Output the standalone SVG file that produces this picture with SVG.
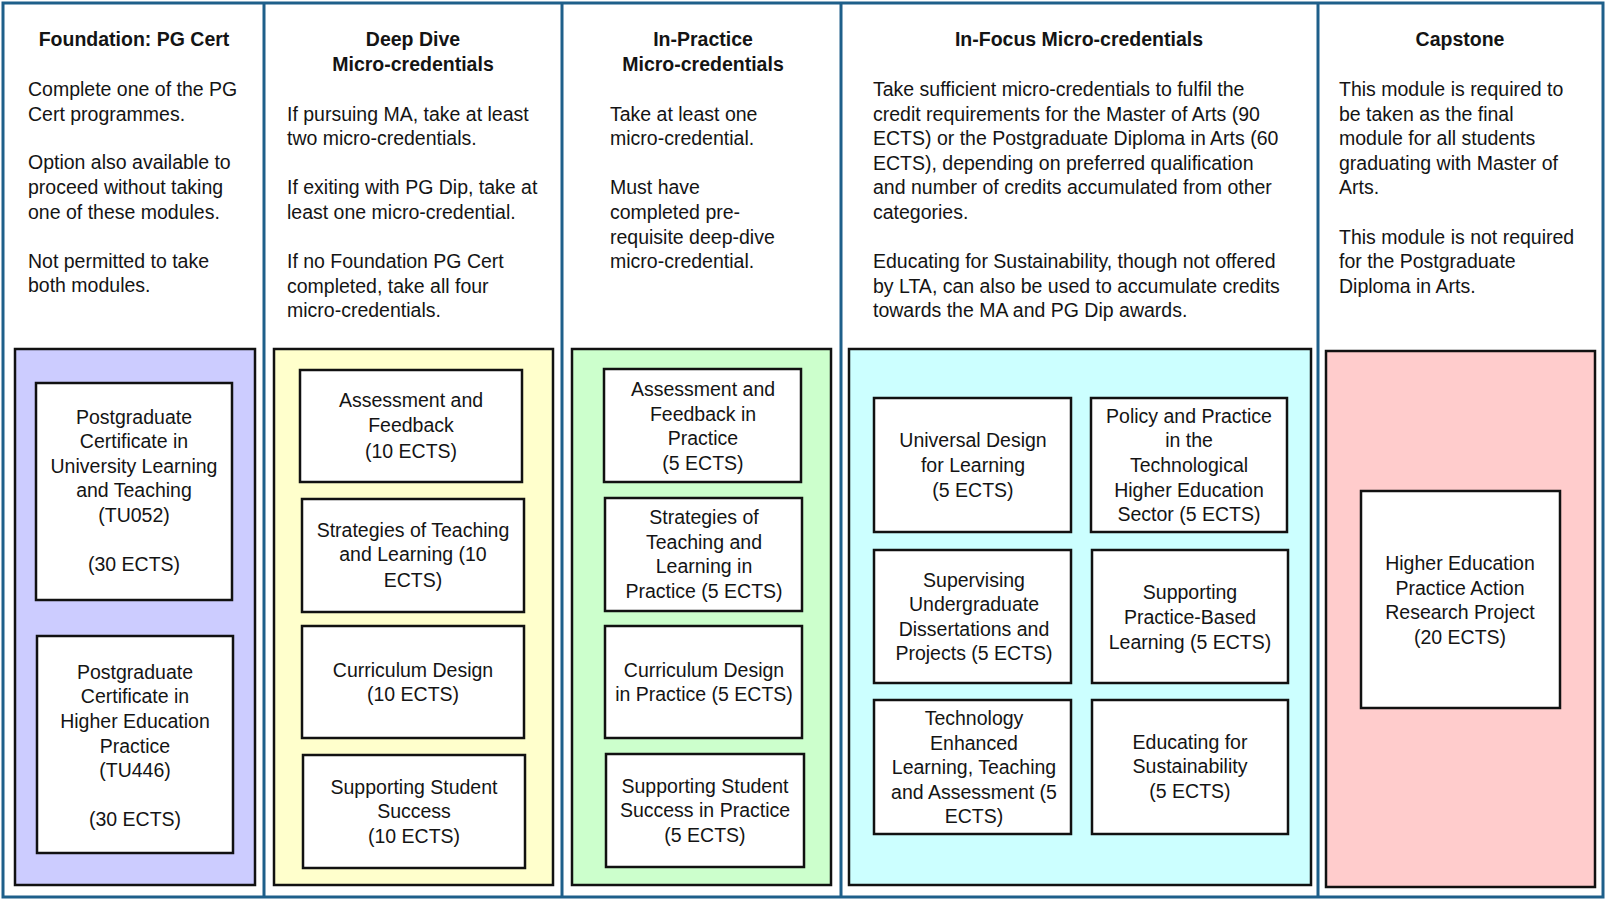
<svg xmlns="http://www.w3.org/2000/svg" width="1606" height="900" viewBox="0 0 1606 900">
<style>
text{font-family:"Liberation Sans",Arial,sans-serif;font-size:19.5px;fill:#141414}
.h{font-weight:bold;text-anchor:middle}
.c{text-anchor:middle}
.grid{fill:none;stroke:#1E5F8A;stroke-width:3}
.panel{stroke:#111;stroke-width:2.5}
.node{fill:#fff;stroke:#111;stroke-width:2.5}
</style>
<rect width="1606" height="900" fill="#fff"/>
<g id="table">
<rect class="grid" x="3" y="3" width="1600" height="894"/>
<line class="grid" x1="264" y1="3" x2="264" y2="897"/>
<line class="grid" x1="562" y1="3" x2="562" y2="897"/>
<line class="grid" x1="841" y1="3" x2="841" y2="897"/>
<line class="grid" x1="1318" y1="3" x2="1318" y2="897"/>
</g>
<g id="col-foundation">
<text class="h" x="134" y="46">Foundation: PG Cert</text>
<text x="28" y="96">Complete one of the PG</text>
<text x="28" y="121">Cert programmes.</text>
<text x="28" y="169">Option also available to</text>
<text x="28" y="194">proceed without taking</text>
<text x="28" y="219">one of these modules.</text>
<text x="28" y="268">Not permitted to take</text>
<text x="28" y="292">both modules.</text>
<rect class="panel" x="15" y="349" width="240" height="536" fill="#CCCCFF"/>
</g>
<g id="node-tu052">
<rect class="node" x="36" y="383" width="196" height="217"/>
<text class="c" x="134" y="424">Postgraduate</text>
<text class="c" x="134" y="448">Certificate in</text>
<text class="c" x="134" y="473">University Learning</text>
<text class="c" x="134" y="497">and Teaching</text>
<text class="c" x="134" y="522">(TU052)</text>
<text class="c" x="134" y="571">(30 ECTS)</text>
</g>
<g id="node-tu446">
<rect class="node" x="37" y="636" width="196" height="217"/>
<text class="c" x="135" y="679">Postgraduate</text>
<text class="c" x="135" y="703">Certificate in</text>
<text class="c" x="135" y="728">Higher Education</text>
<text class="c" x="135" y="753">Practice</text>
<text class="c" x="135" y="777">(TU446)</text>
<text class="c" x="135" y="826">(30 ECTS)</text>
</g>
<g id="col-deepdive">
<text class="h" x="413" y="46">Deep Dive</text>
<text class="h" x="413" y="71">Micro-credentials</text>
<text x="287" y="121">If pursuing MA, take at least</text>
<text x="287" y="145">two micro-credentials.</text>
<text x="287" y="194">If exiting with PG Dip, take at</text>
<text x="287" y="219">least one micro-credential.</text>
<text x="287" y="268">If no Foundation PG Cert</text>
<text x="287" y="293">completed, take all four</text>
<text x="287" y="317">micro-credentials.</text>
<rect class="panel" x="274" y="349" width="279" height="536" fill="#FFFFCC"/>
</g>
<g id="node-dd-af">
<rect class="node" x="300" y="370" width="222" height="112"/>
<text class="c" x="411" y="407">Assessment and</text>
<text class="c" x="411" y="432">Feedback</text>
<text class="c" x="411" y="458">(10 ECTS)</text>
</g>
<g id="node-dd-stl">
<rect class="node" x="302" y="499" width="222" height="113"/>
<text class="c" x="413" y="537">Strategies of Teaching</text>
<text class="c" x="413" y="561">and Learning (10</text>
<text class="c" x="413" y="587">ECTS)</text>
</g>
<g id="node-dd-cd">
<rect class="node" x="302" y="626" width="222" height="112"/>
<text class="c" x="413" y="677">Curriculum Design</text>
<text class="c" x="413" y="701">(10 ECTS)</text>
</g>
<g id="node-dd-sss">
<rect class="node" x="303" y="755" width="222" height="113"/>
<text class="c" x="414" y="794">Supporting Student</text>
<text class="c" x="414" y="818">Success</text>
<text class="c" x="414" y="843">(10 ECTS)</text>
</g>
<g id="col-inpractice">
<text class="h" x="703" y="46">In-Practice</text>
<text class="h" x="703" y="71">Micro-credentials</text>
<text x="610" y="121">Take at least one</text>
<text x="610" y="145">micro-credential.</text>
<text x="610" y="194">Must have</text>
<text x="610" y="219">completed pre-</text>
<text x="610" y="244">requisite deep-dive</text>
<text x="610" y="268">micro-credential.</text>
<rect class="panel" x="572" y="349" width="259" height="536" fill="#CCFFCC"/>
</g>
<g id="node-ip-af">
<rect class="node" x="604" y="369" width="197" height="113"/>
<text class="c" x="703" y="396">Assessment and</text>
<text class="c" x="703" y="421">Feedback in</text>
<text class="c" x="703" y="445">Practice</text>
<text class="c" x="703" y="470">(5 ECTS)</text>
</g>
<g id="node-ip-stl">
<rect class="node" x="605" y="498" width="197" height="113"/>
<text class="c" x="704" y="524">Strategies of</text>
<text class="c" x="704" y="549">Teaching and</text>
<text class="c" x="704" y="573">Learning in</text>
<text class="c" x="704" y="598">Practice (5 ECTS)</text>
</g>
<g id="node-ip-cd">
<rect class="node" x="605" y="626" width="197" height="112"/>
<text class="c" x="704" y="677">Curriculum Design</text>
<text class="c" x="704" y="701">in Practice (5 ECTS)</text>
</g>
<g id="node-ip-sss">
<rect class="node" x="606" y="754" width="198" height="113"/>
<text class="c" x="705" y="793">Supporting Student</text>
<text class="c" x="705" y="817">Success in Practice</text>
<text class="c" x="705" y="842">(5 ECTS)</text>
</g>
<g id="col-infocus">
<text class="h" x="1079" y="46">In-Focus Micro-credentials</text>
<text x="873" y="96">Take sufficient micro-credentials to fulfil the</text>
<text x="873" y="121">credit requirements for the Master of Arts (90</text>
<text x="873" y="145">ECTS) or the Postgraduate Diploma in Arts (60</text>
<text x="873" y="170">ECTS), depending on preferred qualification</text>
<text x="873" y="194">and number of credits accumulated from other</text>
<text x="873" y="219">categories.</text>
<text x="873" y="268">Educating for Sustainability, though not offered</text>
<text x="873" y="293">by LTA, can also be used to accumulate credits</text>
<text x="873" y="317">towards the MA and PG Dip awards.</text>
<rect class="panel" x="849" y="349" width="462" height="536" fill="#CCFFFF"/>
</g>
<g id="node-udl">
<rect class="node" x="874" y="398" width="197" height="134"/>
<text class="c" x="973" y="447">Universal Design</text>
<text class="c" x="973" y="472">for Learning</text>
<text class="c" x="973" y="497">(5 ECTS)</text>
</g>
<g id="node-policy">
<rect class="node" x="1091" y="398" width="196" height="134"/>
<text class="c" x="1189" y="423">Policy and Practice</text>
<text class="c" x="1189" y="447">in the</text>
<text class="c" x="1189" y="472">Technological</text>
<text class="c" x="1189" y="497">Higher Education</text>
<text class="c" x="1189" y="521">Sector (5 ECTS)</text>
</g>
<g id="node-supervising">
<rect class="node" x="874" y="550" width="197" height="133"/>
<text class="c" x="974" y="587">Supervising</text>
<text class="c" x="974" y="611">Undergraduate</text>
<text class="c" x="974" y="636">Dissertations and</text>
<text class="c" x="974" y="660">Projects (5 ECTS)</text>
</g>
<g id="node-pbl">
<rect class="node" x="1092" y="550" width="196" height="133"/>
<text class="c" x="1190" y="599">Supporting</text>
<text class="c" x="1190" y="624">Practice-Based</text>
<text class="c" x="1190" y="649">Learning (5 ECTS)</text>
</g>
<g id="node-tel">
<rect class="node" x="874" y="700" width="197" height="134"/>
<text class="c" x="974" y="725">Technology</text>
<text class="c" x="974" y="750">Enhanced</text>
<text class="c" x="974" y="774">Learning, Teaching</text>
<text class="c" x="974" y="799">and Assessment (5</text>
<text class="c" x="974" y="823">ECTS)</text>
</g>
<g id="node-sustainability">
<rect class="node" x="1092" y="700" width="196" height="134"/>
<text class="c" x="1190" y="749">Educating for</text>
<text class="c" x="1190" y="773">Sustainability</text>
<text class="c" x="1190" y="798">(5 ECTS)</text>
</g>
<g id="col-capstone">
<text class="h" x="1460" y="46">Capstone</text>
<text x="1339" y="96">This module is required to</text>
<text x="1339" y="121">be taken as the final</text>
<text x="1339" y="145">module for all students</text>
<text x="1339" y="170">graduating with Master of</text>
<text x="1339" y="194">Arts.</text>
<text x="1339" y="244">This module is not required</text>
<text x="1339" y="268">for the Postgraduate</text>
<text x="1339" y="293">Diploma in Arts.</text>
<rect class="panel" x="1326" y="351" width="269" height="536" fill="#FFCCCC"/>
</g>
<g id="node-capstone">
<rect class="node" x="1361" y="491" width="199" height="217"/>
<text class="c" x="1460" y="570">Higher Education</text>
<text class="c" x="1460" y="595">Practice Action</text>
<text class="c" x="1460" y="619">Research Project</text>
<text class="c" x="1460" y="644">(20 ECTS)</text>
</g>
<g id="connectors"/>
</svg>
